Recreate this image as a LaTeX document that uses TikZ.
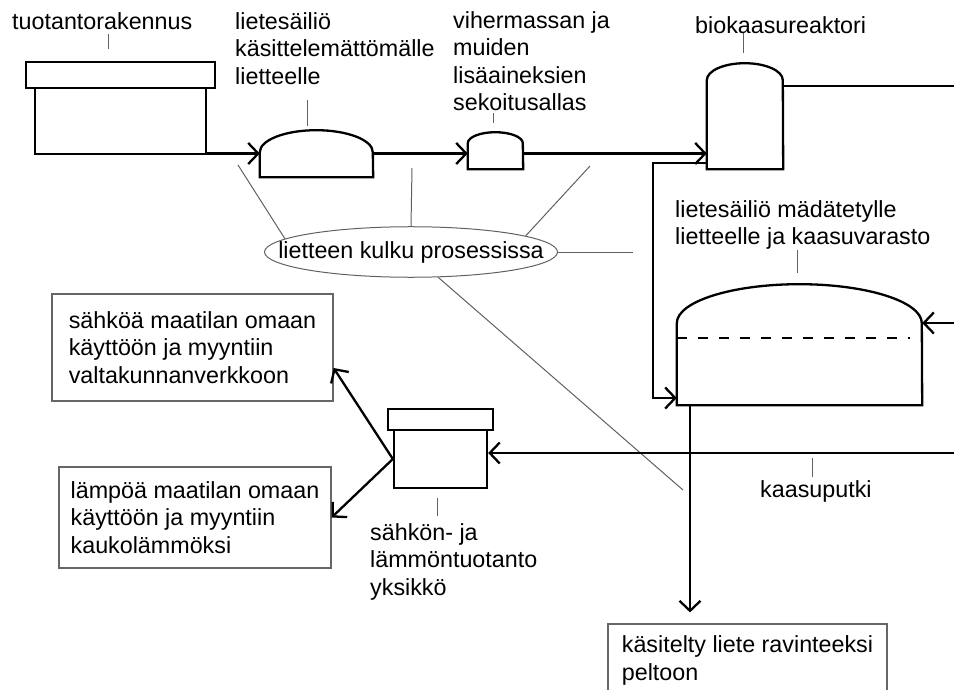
\documentclass[tikz,border=0pt]{standalone}
\usepackage{fontspec}
\setmainfont{Liberation Sans}
\usetikzlibrary{arrows.meta,shapes.geometric}
\begin{document}
\begin{tikzpicture}[x=1pt,y=-1pt,
  txt/.style={font=\fontsize{23.3}{27.5}\selectfont, inner sep=0pt, anchor=north west, align=left},
  pipe/.style={line width=2.3pt, line join=miter},
  shapebox/.style={pipe, draw, inner sep=0pt},
  flow/.style={pipe, -{Straight Barb[length=10pt,width=21pt]}},
  lead/.style={draw=black!62, line width=1pt},
  infobox/.style={draw=black!60, line width=1.2pt, fill=white, inner sep=0pt,
    font=\fontsize{23.3}{27.5}\selectfont, align=left},
  tank/.style={inner sep=0pt}
]
\useasboundingbox (0,0) rectangle (954,690);
\clip (0,0) rectangle (954,690);
\fill[white] (0,0) rectangle (954,690);

% production building
\node[shapebox, minimum width=189pt, minimum height=26pt] (roof1) at (120.5,75) {};
\node[shapebox, minimum width=171pt, minimum height=66pt] (bld) at (120.5,121) {};

% tank 1
\node[tank, minimum width=113pt, minimum height=47pt] (t1) at (316.5,153.5) {};
\draw[pipe] (t1.south west) -- ++(0,-25) arc[start angle=180, end angle=0, x radius=56.5pt, y radius=22pt] -- (t1.south east) -- cycle;

% tank 2
\node[tank, minimum width=55pt, minimum height=37pt] (t2) at (495.5,150.5) {};
\draw[pipe] (t2.south west) -- ++(0,-26) arc[start angle=180, end angle=0, x radius=27.5pt, y radius=11pt] -- (t2.south east) -- cycle;

% reactor
\node[tank, minimum width=76pt, minimum height=106pt] (r) at (745,116) {};
\draw[pipe] (r.south west) -- ++(0,-89) arc[start angle=180, end angle=0, x radius=38pt, y radius=17pt] -- (r.south east) -- cycle;

% gas tank
\node[tank, minimum width=245pt, minimum height=121pt] (g) at (799.5,344.5) {};
\draw[pipe] (g.south west) -- ++(0,-82) arc[start angle=180, end angle=0, x radius=122.5pt, y radius=39pt] -- (g.south east) -- cycle;
\draw[line width=1.5pt, dash pattern=on 10pt off 11pt] ([yshift=6.5pt]g.west) -- ([xshift=-12pt,yshift=6.5pt]g.east);

% CHP unit
\node[shapebox, minimum width=105pt, minimum height=21pt] (chproof) at (440.5,419.5) {};
\node[shapebox, minimum width=93pt, minimum height=58pt] (chp) at (440.5,459) {};

% output boxes
\node[infobox, minimum width=281pt, minimum height=107pt] (b1) at (192.5,347.5) {sähköä maatilan omaan\\käyttöön ja myyntiin\\valtakunnanverkkoon};
\node[infobox, minimum width=272pt, minimum height=101pt] (b2) at (195,517.5) {lämpöä maatilan omaan\\käyttöön ja myyntiin\\kaukolämmöksi};
\node[infobox, minimum width=279pt, minimum height=73pt] (b3) at (747.5,660.5) {käsitelty liete ravinteeksi\\peltoon};

% labels
\node[txt] (lb1) at (12,12.3) {tuotantorakennus};
\node[txt] (lb2) at (235,12.3) {lietesäiliö\\käsittelemättömälle\\lietteelle};
\node[txt] (lb3) at (453,11.3) {vihermassan ja\\muiden\\lisäaineksien\\sekoitusallas};
\node[txt] (lb4) at (695,16.3) {biokaasureaktori};
\node[txt] (lb5) at (675,200.3) {lietesäiliö mädätetylle\\lietteelle ja kaasuvarasto};
\node[txt] (lb6) at (370,523.3) {sähkön- ja\\lämmöntuotanto\\yksikkö};
\node[txt] (kp) at (760,480.3) {kaasuputki};

% label leaders
\draw[lead] ([xshift=-12.5pt,yshift=12pt]roof1.north) -- ++(0,-15);
\draw[lead] ([xshift=-9.5pt,yshift=4pt]t1.north) -- ++(0,-26);
\draw[lead] ([xshift=-2.5pt,yshift=9pt]t2.north) -- ++(0,-10);
\draw[lead] ([xshift=-2pt,yshift=10pt]r.north) -- ++(0,-20);
\draw[lead] ([xshift=-2.5pt,yshift=11pt]g.north) -- ++(0,-23);
\draw[lead] ([xshift=-3.5pt,yshift=-9pt]chp.south) -- ++(0,18);
\draw[lead] ([xshift=52pt,yshift=3pt]kp.north west) -- ++(0,-19);

% ellipse
\node[draw=black!62, line width=1pt, ellipse, inner xsep=-29.5pt, inner ysep=7pt,
  minimum width=293pt, minimum height=50pt,
  font=\fontsize{23.3}{27.5}\selectfont] (e) at (411,252) {lietteen kulku prosessissa};
\coordinate (l1) at (238,165);
\coordinate (l2) at (412,168);
\coordinate (l3) at (590,166);
\coordinate (l4) at (633,252);
\coordinate (l5) at (683,490);
\draw[lead] (e.174) -- (l1);
\draw[lead] (e.north) -- (l2);
\draw[lead] (e.8) -- (l3);
\draw[lead] (e.east) -- (l4);
\draw[lead] (e.317) -- (l5);

% flows
\draw[flow] (bld.east |- t1.west) -- (t1.west);
\draw[flow] (t1.east) -- (t2.west |- t1.east);
\draw[flow] (t2.east |- t1.east) -- (r.west |- t1.east);
\coordinate (rightA) at (975,86);
\coordinate (rightB) at (975,323);
\draw[flow] ([yshift=30pt]r.east) -- (rightA) -- (rightB) -- ([yshift=21.5pt]g.east);
\draw[flow] ([yshift=-47pt]r.west) -- ++(-54,0) |- ([yshift=-53.5pt]g.west);
\coordinate (gout) at ([xshift=-109.5pt]g.south);
\draw[flow, shorten >=11pt] (gout) -- (gout |- b3.north);
\coordinate (gasin) at (975,453);
\draw[flow] (gasin) -- ([yshift=6pt]chp.east);
\draw[flow] (chp.west) -- ([yshift=-20.5pt]b1.east);
\draw[flow] (chp.west) -- (b2.east);
\end{tikzpicture}
\end{document}
